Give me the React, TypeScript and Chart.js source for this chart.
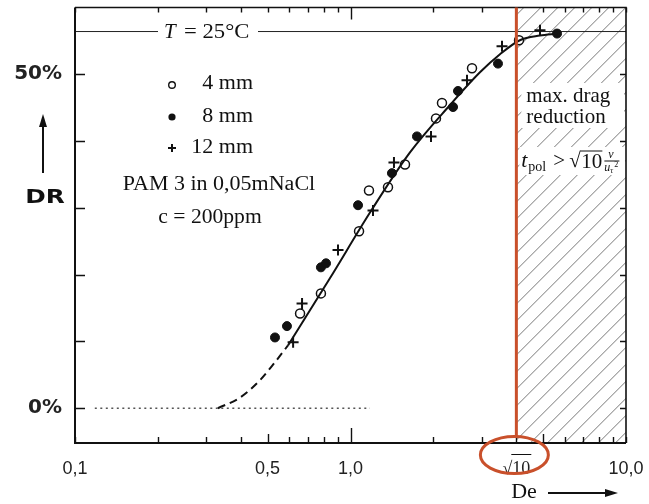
import React, { useEffect, useRef } from 'react';
import { Chart, registerables } from 'chart.js';

Chart.register(...registerables);

// ---- data ----
const d4mmDe = [0.656, 0.781, 1.074, 1.167, 1.368, 1.577, 2.043, 2.148, 2.761, 4.09];
const d4mmDR = [14.2, 17.2, 26.5, 32.6, 33.1, 36.5, 43.4, 45.7, 50.9, 55.1];
const d8mmDe = [0.532, 0.588, 0.781, 0.815, 1.065, 1.414, 1.743, 2.356, 2.456, 3.43, 5.62];
const d8mmDR = [10.6, 12.3, 21.1, 21.7, 30.4, 35.2, 40.7, 45.1, 47.5, 51.6, 56.1];
const d12mmDe = [0.619, 0.667, 0.901, 1.207, 1.438, 1.96, 2.648, 3.548, 4.873];
const d12mmDR = [9.9, 15.7, 23.7, 29.6, 36.8, 40.7, 49.1, 54.2, 56.6];
const fitDashedDe = [0.33, 0.397, 0.469, 0.532, 0.593];
const fitDashedDR = [0, 1.6, 4.2, 6.9, 9.4];
const fitSolidDe = [0.593, 0.843, 1.177, 1.644, 2.297, 2.951, 3.488, 4.12, 4.87, 5.62];
const fitSolidDR = [9.4, 19.5, 29.3, 38.3, 45.4, 50.3, 53.0, 55.1, 55.8, 56.1];
const zeroLineDe = [0.118, 1.177];
const zeroLineDR = [0, 0];
const tempLineDR = 56.4;
const maxDRBoundaryDe = 4.0;

const xTickValues = [0.1, 0.2, 0.3, 0.4, 0.5, 0.6, 0.7, 0.8, 0.9, 1, 2, 3, 4, 5, 6, 7, 8, 9, 10];
const xLabelValues = [0.1, 0.5, 1, 4, 10];
const xLabelTexts = ['0,1', '0,5', '1,0', '√10', '10,0'];
const yTickValues = [0, 10, 20, 30, 40, 50];
const yLabelValues = [0, 50];
const yLabelTexts = ['0%', '50%'];

const SERIF = '"Liberation Serif", "Times New Roman", serif';
const SANS = '"Liberation Sans", Arial, sans-serif';
const RED = '#C9502B';

const pts = (xs: number[], ys: number[]) => xs.map((x, i) => ({ x, y: ys[i] }));

function txt(ctx: CanvasRenderingContext2D, s: string, x: number, y: number, font: string, align: CanvasTextAlign = 'left', sx = 1) {
  ctx.save();
  ctx.font = font;
  ctx.fillStyle = '#111';
  ctx.textBaseline = 'middle';
  ctx.textAlign = align;
  ctx.translate(x, y);
  ctx.scale(sx, 1);
  ctx.fillText(s, 0, 0);
  ctx.restore();
}

const zeroPad = (s: any) => {
  s.paddingTop = 0;
  s.paddingBottom = 0;
  s.paddingLeft = 0;
  s.paddingRight = 0;
};

const deco = {
  id: 'deco',
  beforeDatasetsDraw(chart: any) {
    const { ctx, chartArea: a, scales } = chart;
    const xs = scales.x, ys = scales.y;
    const xr = xs.getPixelForValue(maxDRBoundaryDe);
    // hatch
    ctx.save();
    ctx.beginPath();
    ctx.rect(xr, a.top, a.right - xr, a.bottom - a.top);
    ctx.clip();
    ctx.strokeStyle = '#6a6a6a';
    ctx.lineWidth = 0.9;
    const h = a.bottom - a.top;
    for (let sx = xr + 14 - 17 * 30; sx < a.right + 20; sx += 17) {
      ctx.beginPath();
      ctx.moveTo(sx, a.bottom);
      ctx.lineTo(sx + h, a.top);
      ctx.stroke();
    }
    ctx.restore();
    // white areas behind hatch text
    ctx.save();
    ctx.fillStyle = '#fff';
    ctx.fillRect(xr + 5, 83, a.right - xr - 7, 45);
    ctx.fillRect(xr + 3, 147, a.right - xr - 4, 28);
    ctx.restore();

    // temperature line
    const ty = ys.getPixelForValue(tempLineDR);
    ctx.save();
    ctx.strokeStyle = '#222';
    ctx.lineWidth = 1;
    ctx.beginPath();
    ctx.moveTo(a.left, ty); ctx.lineTo(158, ty);
    ctx.moveTo(258, ty); ctx.lineTo(a.right, ty);
    ctx.stroke();
    ctx.restore();
    txt(ctx, 'T', 164, ty + 1, `italic 21px ${SERIF}`);
    txt(ctx, '= 25°C', 184, ty + 1, `21px ${SERIF}`, 'left', 1.08);

    // frame and ticks
    ctx.save();
    ctx.strokeStyle = '#111';
    ctx.lineWidth = 2;
    ctx.beginPath();
    ctx.moveTo(a.left, a.top); ctx.lineTo(a.left, a.bottom); ctx.lineTo(a.right, a.bottom);
    ctx.stroke();
    ctx.lineWidth = 1.6;
    ctx.beginPath();
    ctx.moveTo(a.left, a.top); ctx.lineTo(a.right, a.top); ctx.lineTo(a.right, a.bottom);
    ctx.stroke();
    ctx.lineWidth = 1.4;
    ctx.beginPath();
    xTickValues.forEach((v) => {
      const px = Math.round(xs.getPixelForValue(v)) + 0.5;
      const lb = v === 1 ? 15 : (v === 0.5 || v === 5 ? 9 : 6);
      const lt = v === 1 ? 12 : 5;
      ctx.moveTo(px, a.bottom); ctx.lineTo(px, a.bottom - lb);
      ctx.moveTo(px, a.top); ctx.lineTo(px, a.top + lt);
    });
    yTickValues.forEach((v) => {
      const py = Math.round(ys.getPixelForValue(v)) + 0.5;
      ctx.moveTo(a.left, py); ctx.lineTo(a.left + 10, py);
      ctx.moveTo(a.right, py); ctx.lineTo(a.right - 6, py);
    });
    ctx.stroke();
    ctx.restore();

    // legend block
    const lx = 172;
    ctx.save();
    ctx.strokeStyle = '#111';
    ctx.fillStyle = '#111';
    ctx.lineWidth = 1.4;
    ctx.beginPath(); ctx.arc(lx, 85, 3.3, 0, Math.PI * 2); ctx.stroke();
    ctx.beginPath(); ctx.arc(lx, 117, 3.6, 0, Math.PI * 2); ctx.fill();
    ctx.lineWidth = 2;
    ctx.beginPath(); ctx.moveTo(lx - 4, 148); ctx.lineTo(lx + 4, 148); ctx.moveTo(lx, 144); ctx.lineTo(lx, 152); ctx.stroke();
    ctx.restore();
    txt(ctx, '4 mm', 253, 84, `20px ${SERIF}`, 'right', 1.1);
    txt(ctx, '8 mm', 253, 117, `20px ${SERIF}`, 'right', 1.1);
    txt(ctx, '12 mm', 253, 148, `20px ${SERIF}`, 'right', 1.1);
    txt(ctx, 'PAM 3 in 0,05mNaCl', 219, 185, `20px ${SERIF}`, 'center', 1.1);
    txt(ctx, 'c = 200ppm', 210, 218, `20px ${SERIF}`, 'center', 1.08);

    // hatch region text
    txt(ctx, 'max. drag', xr + 10, 96, `21px ${SERIF}`);
    txt(ctx, 'reduction', xr + 10, 117, `21px ${SERIF}`);
    // t_pol > sqrt(10) nu / u_tau^2
    const ty2 = 161;
    const bx = xr + 5;
    txt(ctx, 't', bx, ty2, `italic 22px ${SERIF}`);
    txt(ctx, 'pol', bx + 7, ty2 + 6, `14px ${SERIF}`);
    txt(ctx, '>', bx + 32, ty2, `21px ${SERIF}`);
    txt(ctx, '√', bx + 48, ty2, `21px ${SERIF}`);
    txt(ctx, '10', bx + 60, ty2 + 1, `21px ${SERIF}`);
    ctx.save();
    ctx.strokeStyle = '#111';
    ctx.lineWidth = 1;
    ctx.beginPath(); ctx.moveTo(bx + 59, ty2 - 10); ctx.lineTo(bx + 81, ty2 - 10); ctx.stroke();
    ctx.beginPath(); ctx.moveTo(bx + 83, ty2); ctx.lineTo(bx + 98, ty2); ctx.stroke();
    ctx.restore();
    txt(ctx, 'ν', bx + 87, ty2 - 6, `italic 12px ${SERIF}`);
    txt(ctx, 'u', bx + 83, ty2 + 7, `italic 12px ${SERIF}`);
    txt(ctx, 'τ', bx + 89, ty2 + 10, `italic 8px ${SERIF}`);
    txt(ctx, '2', bx + 93, ty2 + 4, `8px ${SERIF}`);
  },
  afterDraw(chart: any) {
    const { ctx, chartArea: a, scales } = chart;
    const xr = scales.x.getPixelForValue(maxDRBoundaryDe);
    ctx.save();
    ctx.strokeStyle = RED;
    ctx.lineWidth = 3;
    ctx.beginPath();
    ctx.moveTo(xr, a.top);
    ctx.lineTo(xr, a.bottom - 6);
    ctx.stroke();
    ctx.beginPath();
    ctx.ellipse(xr - 2, a.bottom + 12, 34, 18.5, 0, 0, Math.PI * 2);
    ctx.stroke();
    // overline for sqrt(10) tick label
    ctx.font = `18px ${SERIF}`;
    const wAll = ctx.measureText('√10').width;
    const wRoot = ctx.measureText('√').width;
    const sx0 = xr - wAll / 2 + wRoot - 1;
    ctx.strokeStyle = '#111';
    ctx.lineWidth = 1;
    ctx.beginPath();
    ctx.moveTo(sx0, a.bottom + 11.5);
    ctx.lineTo(xr + wAll / 2 + 1, a.bottom + 11.5);
    ctx.stroke();
    ctx.restore();

    // DR label with arrow
    ctx.save();
    ctx.fillStyle = '#111';
    ctx.strokeStyle = '#111';
    ctx.lineWidth = 2;
    ctx.beginPath(); ctx.moveTo(43, 173); ctx.lineTo(43, 124); ctx.stroke();
    ctx.beginPath(); ctx.moveTo(43, 114); ctx.lineTo(47, 127); ctx.lineTo(39, 127); ctx.closePath(); ctx.fill();
    // De arrow
    ctx.lineWidth = 1.8;
    ctx.beginPath(); ctx.moveTo(548, 493); ctx.lineTo(607, 493); ctx.stroke();
    ctx.beginPath(); ctx.moveTo(618, 493); ctx.lineTo(605, 489); ctx.lineTo(605, 497); ctx.closePath(); ctx.fill();
    ctx.restore();
    txt(ctx, 'DR', 45, 198, `bold 19px "DejaVu Sans", sans-serif`, 'center', 1.3);
    txt(ctx, 'De', 524, 492, `22px ${SERIF}`, 'center');
  },
};

export default function App() {
  const ref = useRef<HTMLCanvasElement>(null);
  useEffect(() => {
    const chart = new Chart(ref.current as HTMLCanvasElement, {
      type: 'scatter',
      data: {
        datasets: [
          {
            label: 'zero', data: pts(zeroLineDe, zeroLineDR), showLine: true, borderColor: '#555',
            borderWidth: 1.5, borderDash: [2, 3.5], pointRadius: 0,
          },
          {
            label: 'fit dashed', data: pts(fitDashedDe, fitDashedDR), showLine: true, borderColor: '#111',
            borderWidth: 2, borderDash: [8, 5], pointRadius: 0, cubicInterpolationMode: 'monotone',
          },
          {
            label: 'fit', data: pts(fitSolidDe, fitSolidDR), showLine: true, borderColor: '#111',
            borderWidth: 2, pointRadius: 0, cubicInterpolationMode: 'monotone',
          },
          {
            label: '8 mm', data: pts(d8mmDe, d8mmDR), pointStyle: 'circle', pointRadius: 4.5,
            backgroundColor: '#111', borderColor: '#111', borderWidth: 1,
          },
          {
            label: '4 mm', data: pts(d4mmDe, d4mmDR), pointStyle: 'circle', pointRadius: 4.5,
            backgroundColor: '#fff', borderColor: '#111', borderWidth: 1.5,
          },
          {
            label: '12 mm', data: pts(d12mmDe, d12mmDR), pointStyle: 'cross', pointRadius: 5.5,
            borderColor: '#111', borderWidth: 2,
          },
        ],
      } as any,
      options: {
        animation: false,
        responsive: false,
        layout: { padding: { top: 7, right: 23, left: 0, bottom: 0 } },
        plugins: { legend: { display: false }, tooltip: { enabled: false } },
        scales: {
          x: {
            type: 'logarithmic',
            min: 0.1,
            max: 10,
            grid: { display: false, drawTicks: false },
            border: { display: false },
            afterBuildTicks: (s: any) => { s.ticks = xLabelValues.map((v) => ({ value: v })); },
            afterFit: (s: any) => { s.height = 61; zeroPad(s); },
            ticks: {
              autoSkip: false,
              maxRotation: 0,
              padding: 15,
              color: '#222',
              font: (c: any) => (c.tick && c.tick.value === maxDRBoundaryDe
                ? { family: SERIF, size: 18 }
                : { family: SANS, size: 18 }),
              callback: (v: any) => {
                const i = xLabelValues.indexOf(Number(v));
                return i >= 0 ? xLabelTexts[i] : '';
              },
            },
          },
          y: {
            type: 'linear',
            min: -5.2,
            max: 60,
            grid: { display: false, drawTicks: false },
            border: { display: false },
            afterBuildTicks: (s: any) => { s.ticks = yLabelValues.map((v) => ({ value: v })); },
            afterFit: (s: any) => { s.width = 75; zeroPad(s); },
            ticks: {
              padding: 13,
              color: '#222',
              font: { family: '"DejaVu Sans", sans-serif', weight: 'bold', size: 20 },
              callback: (v: any) => {
                const i = yLabelValues.indexOf(Number(v));
                return i >= 0 ? yLabelTexts[i] : '';
              },
            },
          },
        },
      } as any,
      plugins: [deco],
    });
    return () => chart.destroy();
  }, []);
  return (
    <div style={{ position: 'absolute', left: 0, top: 0, width: 649, height: 504, background: '#fff' }}>
      <canvas ref={ref} width={649} height={504} style={{ display: 'block', width: 649, height: 504 }} />
    </div>
  );
}
